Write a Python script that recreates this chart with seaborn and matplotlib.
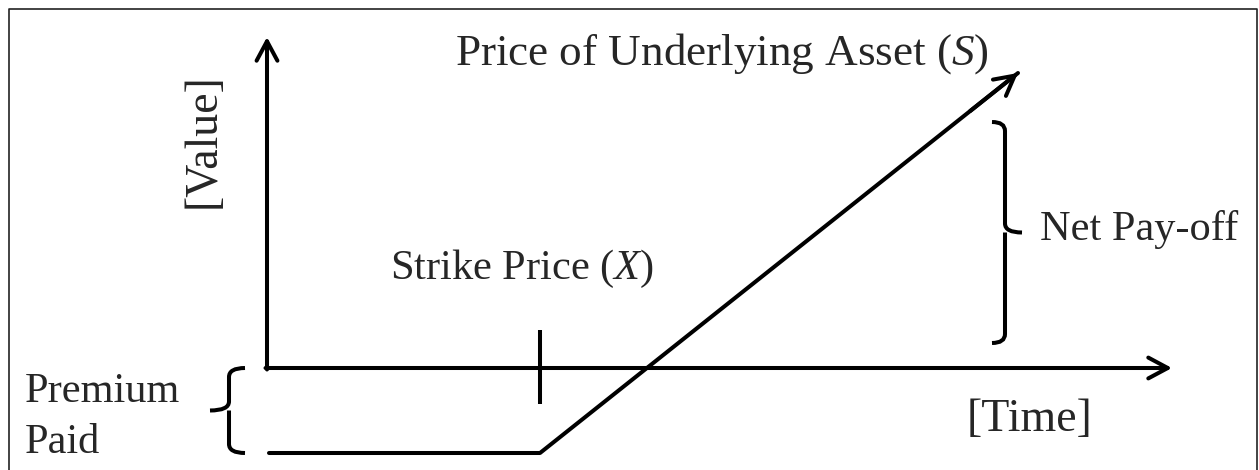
import numpy as np
import matplotlib.pyplot as plt
from matplotlib.path import Path
from matplotlib.patches import PathPatch
import seaborn as sns

sns.set_style('white')
plt.rcParams['font.family'] = ['Liberation Serif', 'DejaVu Serif']
plt.rcParams['mathtext.fontset'] = 'custom'
plt.rcParams['mathtext.rm'] = 'Liberation Serif'
plt.rcParams['mathtext.it'] = 'Liberation Serif:italic'

# payoff of a long call, drawn in the diagram's own units
price = [2, 273, 751]          # underlying price (S)
payoff = [-85, -85, 295]       # value
strike = 273                   # X
premium = 85
net_payoff = [25, 246]         # span marked by the right brace
x_axis_end = 905
y_axis_end = 331

LW = 2.9


def brace(ax, spine, y_lo, y_hi, arm, tip, r=9):
    # arm > 0: arms point right (a "{"), arm < 0: arms point left (a "}")
    ym = (y_lo + y_hi) / 2
    d = np.sign(arm)
    verts = [(spine + arm, y_hi), (spine, y_hi), (spine, y_hi - r),
             (spine, ym + r), (spine, ym), (spine - d * tip, ym),
             (spine, ym), (spine, ym - r),
             (spine, y_lo + r), (spine, y_lo), (spine + arm, y_lo)]
    codes = [Path.MOVETO, Path.CURVE3, Path.CURVE3,
             Path.LINETO, Path.CURVE3, Path.CURVE3,
             Path.MOVETO, Path.LINETO,
             Path.LINETO, Path.CURVE3, Path.CURVE3]
    ax.add_patch(PathPatch(Path(verts, codes), fill=False, lw=LW,
                           edgecolor='black', capstyle='butt'))


fig = plt.figure(figsize=(12.59, 4.70), dpi=100)
ax = fig.add_axes([0, 0, 1, 1])
ax.set_xlim(-267, 992)
ax.set_ylim(-102, 368)
ax.axis('off')

arrow = dict(arrowstyle='->,head_length=1.4,head_width=0.75', lw=LW,
             color='black', shrinkA=0, shrinkB=0, mutation_scale=10)

# axes
ax.annotate('', xy=(0, y_axis_end), xytext=(0, -1.5), arrowprops=arrow)
ax.annotate('', xy=(x_axis_end, 0), xytext=(-1.5, 0), arrowprops=arrow)

# payoff line
sns.lineplot(x=price, y=payoff, sort=False, color='black', lw=LW, ax=ax)
ax.annotate('', xy=(price[-1], payoff[-1]),
            xytext=(price[-2] + 0.9 * (price[-1] - price[-2]),
                    payoff[-2] + 0.9 * (payoff[-1] - payoff[-2])),
            arrowprops=arrow)

# strike tick
ax.vlines(strike, -36, 38, color='black', lw=LW)

# braces
brace(ax, -38, -premium, 0, 16, 19)
brace(ax, 738, net_payoff[0], net_payoff[1], -13, 17)

# labels
fs = 30.5
ax.text(188, 303, 'Price of Underlying Asset ($S$)', fontsize=32.5, va='baseline')
ax.text(-64, 227, '[Value]', fontsize=33, rotation=90, ha='center', va='center')
ax.text(123, 89, 'Strike Price ($X$)', fontsize=fs, va='baseline')
ax.text(773, 128, 'Net Pay-off', fontsize=fs, va='baseline')
ax.text(700, -52, '[Time]', fontsize=33, va='center')
ax.text(-242, -34, 'Premium', fontsize=fs, va='baseline')
ax.text(-242, -85, 'Paid', fontsize=fs, va='baseline')

# frame
ax.plot([-258, -258, 990, 990], [-110, 359, 359, -110], color='#222222',
        lw=1.2, clip_on=False)

fig.savefig('out.png', dpi=100)
